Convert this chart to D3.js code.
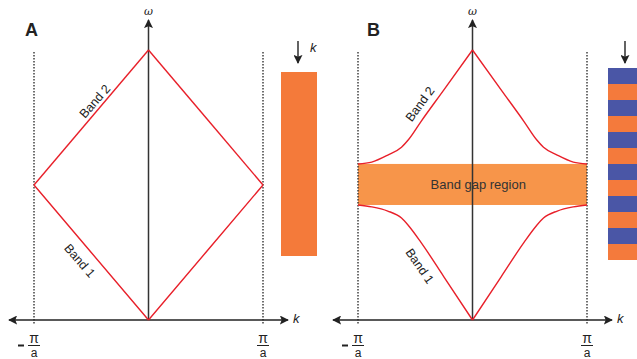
<!DOCTYPE html>
<html lang="en">
<head>
<meta charset="UTF-8">
<title>Band structure</title>
<script src="https://d3js.org/d3.v7.min.js"></script>
<style>
  body { margin: 0; background: #fff; }
  text { font-family: "Liberation Sans", Arial, sans-serif; fill: #222; }
</style>
</head>
<body>
<div id="chart"></div>
<script>
// dispersion data, k in units of pi/a, omega in arbitrary units
const kA = [-1, -0.5, 0, 0.5, 1];
const band1A = [1, 0.5, 0, 0.5, 1];
const band2A = [1, 1.5, 2, 1.5, 1];

const kB = [-1, -0.88, -0.74, -0.62, -0.56, -0.45, -0.25, 0, 0.25, 0.45, 0.56, 0.62, 0.74, 0.88, 1];
const band1B = [0.852, 0.838, 0.807, 0.755, 0.70, 0.575, 0.32, 0, 0.32, 0.575, 0.70, 0.755, 0.807, 0.838, 0.852];
const band2B = [1.156, 1.17, 1.222, 1.28, 1.335, 1.47, 1.705, 2, 1.705, 1.47, 1.335, 1.28, 1.222, 1.17, 1.156];

const gap = [0.852, 1.156];
const stripeCount = 12;

const width = 637, height = 359;
const svg = d3.select("#chart").append("svg")
  .attr("width", width).attr("height", height);

const defs = svg.append("defs");
defs.append("marker")
  .attr("id", "arr")
  .attr("viewBox", "0 0 10 10")
  .attr("refX", 9).attr("refY", 5)
  .attr("markerWidth", 9).attr("markerHeight", 9)
  .attr("markerUnits", "userSpaceOnUse")
  .attr("orient", "auto-start-reverse")
  .append("path").attr("d", "M0,0 L10,5 L0,10 L2,5 Z").attr("fill", "#222");

const y = d3.scaleLinear().domain([0, 2]).range([320, 50]);

function panel(opts) {
  const x = d3.scaleLinear().domain([-1, 1]).range(opts.xr);
  const g = svg.append("g");
  const cx = x(0);

  // band gap region (panel B)
  if (opts.gap) {
    g.append("rect")
      .attr("x", x(-1)).attr("width", x(1) - x(-1))
      .attr("y", y(gap[1])).attr("height", y(gap[0]) - y(gap[1]))
      .attr("fill", "#f7954a");
  }

  // dotted zone boundaries
  [-1, 1].forEach(v => {
    g.append("line")
      .attr("x1", x(v)).attr("x2", x(v))
      .attr("y1", 52).attr("y2", 324)
      .attr("stroke", "#333").attr("stroke-width", 1.4)
      .attr("stroke-dasharray", "1.5,1.5");
  });

  // vertical omega axis
  g.append("line")
    .attr("x1", cx).attr("x2", cx).attr("y1", 320).attr("y2", 20)
    .attr("stroke", "#333").attr("stroke-width", 1.5)
    .attr("marker-end", "url(#arr)");
  g.append("text").attr("x", cx).attr("y", 15)
    .attr("text-anchor", "middle")
    .style("font-family", "'DejaVu Serif', serif").style("font-style", "italic")
    .style("font-size", "11px").text("ω");

  // horizontal k axis
  g.append("line")
    .attr("x1", x(-1) - 25).attr("x2", x(1) + 25).attr("y1", 320).attr("y2", 320)
    .attr("stroke", "#222").attr("stroke-width", 1.5)
    .attr("marker-start", "url(#arr)").attr("marker-end", "url(#arr)");
  g.append("text").attr("x", x(1) + 30).attr("y", 323)
    .style("font-style", "italic").style("font-size", "13px").text("k");

  // -pi/a and pi/a labels
  [-1, 1].forEach(v => {
    const lx = x(v);
    g.append("text").attr("x", lx).attr("y", 343)
      .attr("text-anchor", "middle").style("font-size", "14px").text("π");
    g.append("line").attr("x1", lx - 6).attr("x2", lx + 6)
      .attr("y1", 345.5).attr("y2", 345.5).attr("stroke", "#222").attr("stroke-width", 1);
    g.append("text").attr("x", lx).attr("y", 357)
      .attr("text-anchor", "middle").style("font-size", "12px").text("a");
    if (v < 0) {
      g.append("line").attr("x1", lx - 16).attr("x2", lx - 10)
        .attr("y1", 345.5).attr("y2", 345.5).attr("stroke", "#222").attr("stroke-width", 2);
    }
  });

  // bands, drawn as two halves so the k = 0 point stays sharp
  const line = d3.line().x(d => x(d[0])).y(d => y(d[1])).curve(opts.curve);
  [opts.b1, opts.b2].forEach(b => {
    const pts = opts.k.map((k, i) => [k, b[i]]);
    [pts.filter(p => p[0] <= 0), pts.filter(p => p[0] >= 0)].forEach(half => {
      g.append("path").datum(half)
        .attr("d", line).attr("fill", "none")
        .attr("stroke", "#e8202a").attr("stroke-width", 1.4);
    });
  });

  // band labels
  opts.labels.forEach(l => {
    g.append("text")
      .attr("transform", `translate(${x(l.k)},${y(l.w)}) rotate(${l.r})`)
      .attr("text-anchor", "middle").attr("dy", "0.35em")
      .style("font-size", "12.5px").text(l.t);
  });

  if (opts.gap) {
    g.append("text").attr("x", x(0.05)).attr("y", y((gap[0] + gap[1]) / 2))
      .attr("dy", "0.35em").attr("text-anchor", "middle")
      .style("font-size", "13px").style("fill", "#333").text("Band gap region");
  }

  // panel letter
  g.append("text").attr("x", opts.letterX).attr("y", 36)
    .style("font-weight", "bold").style("font-size", "18px").text(opts.letter);

  // incidence arrow and sample
  const sx = opts.sample[0], sw = opts.sample[1];
  g.append("line").attr("x1", sx + 17).attr("x2", sx + 17).attr("y1", 41).attr("y2", 63)
    .attr("stroke", "#222").attr("stroke-width", 1.4).attr("marker-end", "url(#arr)");
  g.append("text").attr("x", sx + 29).attr("y", 52)
    .style("font-style", "italic").style("font-size", "13px").text("k");

  if (opts.stripes) {
    const sy = d3.scaleBand().domain(d3.range(stripeCount)).range([68, 260]);
    g.selectAll(".stripe").data(d3.range(stripeCount)).enter().append("rect")
      .attr("x", sx).attr("width", sw)
      .attr("y", d => sy(d)).attr("height", sy.bandwidth())
      .attr("fill", d => d % 2 === 0 ? "#4a56a6" : "#f47a3c");
  } else {
    g.append("rect").attr("x", sx).attr("width", sw)
      .attr("y", 72).attr("height", 184).attr("fill", "#f47a3a");
  }
}

panel({
  xr: [34, 263], k: kA, b1: band1A, b2: band2A, curve: d3.curveLinear,
  letter: "A", letterX: 25, sample: [281, 36], stripes: false, gap: false,
  labels: [
    { t: "Band 2", k: -0.47, w: 1.62, r: -49 },
    { t: "Band 1", k: -0.6, w: 0.44, r: 49 }
  ]
});

panel({
  xr: [358, 587], k: kB, b1: band1B, b2: band2B, curve: d3.curveMonotoneX,
  letter: "B", letterX: 367, sample: [608, 40], stripes: true, gap: true,
  labels: [
    { t: "Band 2", k: -0.46, w: 1.6, r: -54 },
    { t: "Band 1", k: -0.46, w: 0.4, r: 55 }
  ]
});
</script>
</body>
</html>
